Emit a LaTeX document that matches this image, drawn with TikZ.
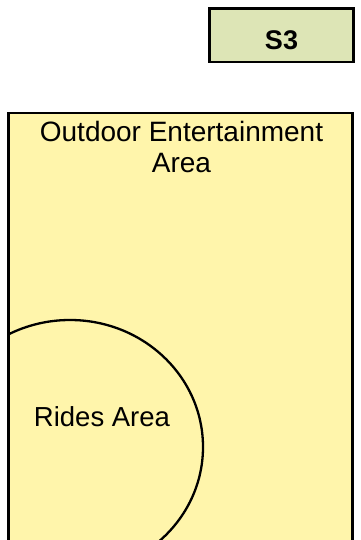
\documentclass[tikz,border=0pt]{standalone}
\usepackage{fontspec}
\setmainfont{Liberation Sans}
\definecolor{areayellow}{HTML}{FFF5AB}
\definecolor{labelgreen}{HTML}{DDE5B6}
\begin{document}
\begin{tikzpicture}[x=1pt,y=-1pt,
  zonebox/.style={draw=black,line width=2.3pt,fill=areayellow},
  tagbox/.style={draw=black,line width=2.3pt,fill=labelgreen},
  arealabel/.style={font=\fontsize{28}{31}\selectfont,inner sep=0pt,align=center,anchor=base},
  taglabel/.style={font=\fontsize{27}{30}\selectfont\bfseries,inner sep=0pt,anchor=base}]
\useasboundingbox (0,0) rectangle (360,540);
% S3 tag
\path[tagbox] (209.5,8.5) rectangle (353.5,62);
\node[taglabel] (s3) at (281.5,49.3) {S3};
% outdoor area
\path[fill=areayellow] (8.5,113) rectangle (352.5,542);
\begin{scope}
  \clip (8.5,113) rectangle (352.5,542);
  \draw[line width=2.3pt] (70,447) ellipse [x radius=133, y radius=127];
\end{scope}
\draw[line width=2.3pt] (8.5,113) rectangle (352.5,542);
\node[arealabel] (outdoor) at (181.5,172.7) {Outdoor Entertainment\\Area};
\node[arealabel,font=\fontsize{27.5}{31}\selectfont] (rides) at (102,426.7) {Rides Area};
\end{tikzpicture}
\end{document}
